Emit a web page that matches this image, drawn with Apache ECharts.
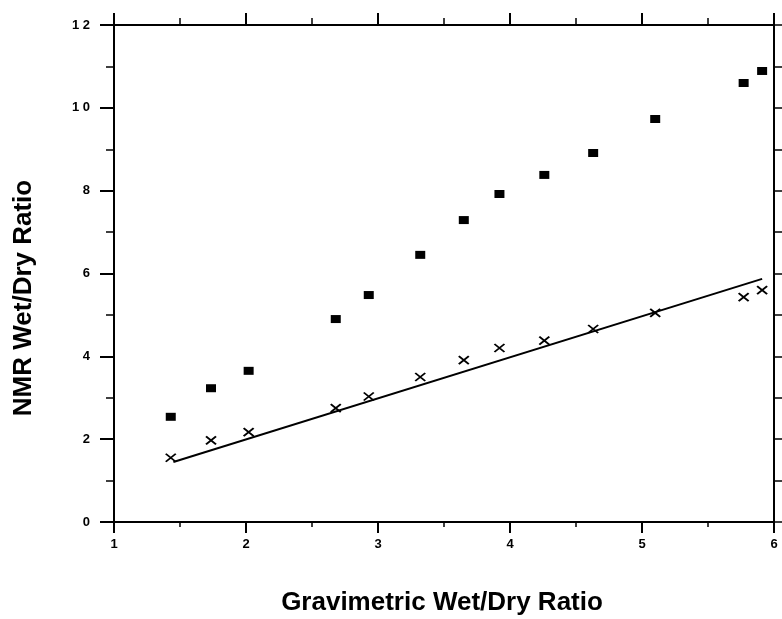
<!DOCTYPE html>
<html>
<head>
<meta charset="utf-8">
<script src="https://cdn.jsdelivr.net/npm/echarts@6/dist/echarts.min.js"></script>
<style>html,body{margin:0;padding:0;background:#fff;}#c{width:782px;height:619px;}</style>
</head>
<body>
<div id="c"></div>
<script>
const gravimetric = [1.43, 1.735, 2.02, 2.68, 2.93, 3.32, 3.65, 3.92, 4.26, 4.63, 5.10, 5.77, 5.91];
const nmrSquares  = [2.54, 3.23, 3.65, 4.90, 5.48, 6.45, 7.29, 7.92, 8.38, 8.91, 9.73, 10.60, 10.89];
const nmrCrosses  = [1.55, 1.97, 2.17, 2.75, 3.03, 3.50, 3.91, 4.20, 4.38, 4.66, 5.05, 5.43, 5.60];
const fitLine = [[1.45, 1.45], [5.91, 5.87]];
const xTicks = [1, 2, 3, 4, 5, 6];
const yTicks = [0, 2, 4, 6, 8, 10, 12];

const chart = echarts.init(document.getElementById('c'));
const F = 'Liberation Sans, Arial, sans-serif';
const axisLine = {show: true, onZero: false, lineStyle: {color: '#000', width: 2}};
chart.setOption({
  animation: false,
  backgroundColor: '#fff',
  grid: {left: 114, right: 8, top: 25, bottom: 97},
  xAxis: [
    {type: 'value', position: 'bottom', min: xTicks[0], max: xTicks[xTicks.length-1], interval: 1,
     axisLine, splitLine: {show: false},
     axisTick: {show: true, inside: false, length: 11, lineStyle: {color: '#000', width: 2}},
     minorTick: {show: true, splitNumber: 2, length: 5, lineStyle: {color: '#000', width: 1.5}},
     axisLabel: {color: '#000', fontFamily: F, fontWeight: 'bold', fontSize: 13, margin: 16}},
    {type: 'value', position: 'top', min: xTicks[0], max: xTicks[xTicks.length-1], interval: 1,
     axisLine, splitLine: {show: false},
     axisTick: {show: true, inside: false, length: 12, lineStyle: {color: '#000', width: 2}},
     minorTick: {show: true, splitNumber: 2, length: 7, lineStyle: {color: '#000', width: 1.5}},
     axisLabel: {show: false}}
  ],
  yAxis: [
    {type: 'value', position: 'left', min: yTicks[0], max: yTicks[yTicks.length-1], interval: 2,
     axisLine, splitLine: {show: false},
     axisTick: {show: true, inside: false, length: 14, lineStyle: {color: '#000', width: 2}},
     minorTick: {show: true, splitNumber: 2, length: 8, lineStyle: {color: '#000', width: 1.5}},
     axisLabel: {color: '#000', fontFamily: F, fontWeight: 'bold', fontSize: 13, margin: 24,
                 formatter: v => String(v).split('').join(' ')}},
    {type: 'value', position: 'right', min: yTicks[0], max: yTicks[yTicks.length-1], interval: 1,
     axisLine, splitLine: {show: false},
     axisTick: {show: true, inside: false, length: 8, lineStyle: {color: '#000', width: 1.5}},
     axisLabel: {show: false}}
  ],
  graphic: [
    {type: 'text', x: 442, y: 603,
     style: {text: 'Gravimetric Wet/Dry Ratio', fill: '#000', font: 'bold 26px ' + F, align: 'center', verticalAlign: 'middle'}},
    {type: 'text', x: 24, y: 298, rotation: Math.PI / 2, originX: 0, originY: 0,
     style: {text: 'NMR Wet/Dry Ratio', fill: '#000', font: 'bold 26px ' + F, align: 'center', verticalAlign: 'middle'}}
  ],
  series: [
    {type: 'line', data: fitLine, xAxisIndex: 0, yAxisIndex: 0, symbol: 'none',
     lineStyle: {color: '#000', width: 2}},
    {type: 'scatter', data: gravimetric.map((x, i) => [x, nmrSquares[i]]), xAxisIndex: 0, yAxisIndex: 0,
     symbol: 'rect', symbolSize: [10, 8], itemStyle: {color: '#000', opacity: 1}},
    {type: 'scatter', data: gravimetric.map((x, i) => [x, nmrCrosses[i]]), xAxisIndex: 0, yAxisIndex: 0,
     symbol: 'path://M0,0L10,8M10,0L0,8', symbolSize: [10, 8],
     itemStyle: {color: 'none', borderColor: '#000', borderWidth: 1.8, opacity: 1}}
  ]
});
</script>
</body>
</html>
